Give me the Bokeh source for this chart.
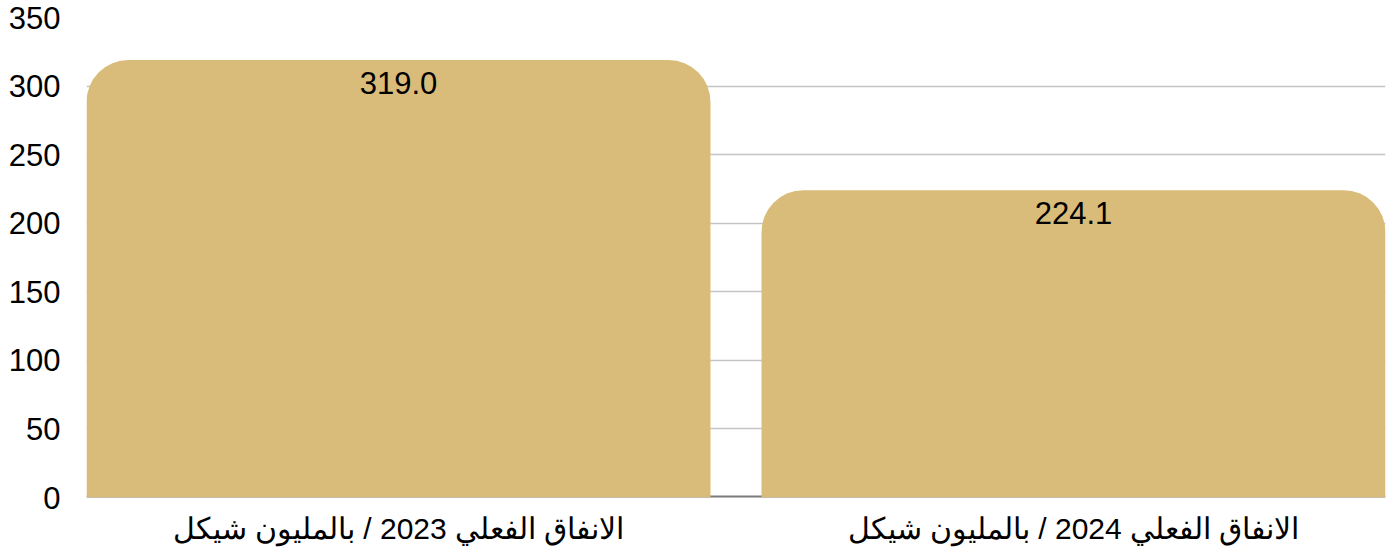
from bokeh.plotting import figure
from bokeh.models import ColumnDataSource, Range1d, FixedTicker, LabelSet, Span
from bokeh.core.properties import value
from bokeh.embed import file_html
from bokeh.resources import INLINE

categories = ["الانفاق الفعلي 2023 / بالمليون شيكل", "الانفاق الفعلي 2024 / بالمليون شيكل"]
values = [319.0, 224.1]
value_labels = ["319.0", "224.1"]
y_ticks = [0, 50, 100, 150, 200, 250, 300, 350]

xs = [i + 0.5 for i in range(len(categories))]
src = ColumnDataSource(dict(x=xs, top=values, label=value_labels))

FONT = "Liberation Sans"

p = figure(width=1387, height=553, output_backend="svg", toolbar_location=None,
           x_range=Range1d(0.0378, 1.9622), y_range=Range1d(0, 350),
           min_border_left=86, min_border_right=2, min_border_top=17, min_border_bottom=56)
p.outline_line_color = None
p.background_fill_color = "white"
p.border_fill_color = "white"

p.vbar(x="x", top="top", bottom=0, width=0.9244, source=src,
       fill_color="#d9bc79", line_color=None,
       border_radius=dict(top_left=42, top_right=42, bottom_right=0, bottom_left=0))

p.add_layout(Span(location=0, dimension="width", line_color="#7a7a7a", line_width=4, level="underlay"))

labels = LabelSet(x="x", y="top", text="label", source=src, y_offset=-12,
                  text_align="center", text_baseline="top", text_font=value(FONT),
                  text_font_size=value("31px"), text_color=value("black"))
p.add_layout(labels)

p.xgrid.grid_line_color = None
p.ygrid.grid_line_color = "#c4c4c4"
p.ygrid.grid_line_width = 1.5
p.ygrid.level = "underlay"

p.yaxis.ticker = FixedTicker(ticks=y_ticks)
p.yaxis.axis_line_color = None
p.yaxis.major_tick_line_color = None
p.yaxis.minor_tick_line_color = None
p.yaxis.major_tick_out = 0
p.yaxis.major_tick_in = 0
p.yaxis.major_label_standoff = 26
p.yaxis.major_label_text_font = FONT
p.yaxis.major_label_text_font_size = "31px"
p.yaxis.major_label_text_color = "black"

p.xaxis.ticker = FixedTicker(ticks=xs)
p.xaxis.major_label_overrides = {x: c for x, c in zip(xs, categories)}
p.xaxis.axis_line_color = None
p.xaxis.major_tick_line_color = None
p.xaxis.minor_tick_line_color = None
p.xaxis.major_tick_out = 0
p.xaxis.major_tick_in = 0
p.xaxis.major_label_standoff = 14
p.xaxis.major_label_text_font = FONT
p.xaxis.major_label_text_font_size = "30px"
p.xaxis.major_label_text_color = "black"

open("out.html", "w").write(file_html(p, INLINE))
